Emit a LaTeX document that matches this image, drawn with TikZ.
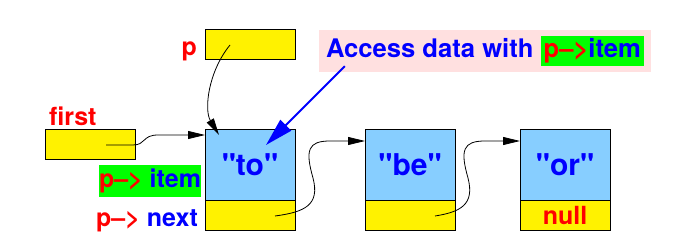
\documentclass[tikz,border=0pt]{standalone}
\usepackage{fontspec}
\setmainfont{TeX Gyre Heros}
\usepackage{xcolor}
\usetikzlibrary{positioning, arrows.meta}
\definecolor{ltblue}{RGB}{135,206,255}
\definecolor{pinkbg}{RGB}{255,224,224}
\definecolor{ptrgreen}{RGB}{0,255,0}
\tikzset{
  databox/.style={
    draw, line width=1pt, fill=ltblue, text=blue,
    minimum width=90pt, minimum height=70pt,
    inner sep=0pt, outer sep=0pt,
    font=\fontsize{30}{34}\selectfont\bfseries
  },
  linkbox/.style={
    draw, line width=1pt, fill=yellow,
    minimum width=90pt, minimum height=30pt,
    inner sep=0pt, outer sep=0pt
  },
  lbl/.style={inner sep=0pt, text=red},
  ptrarrow/.style={draw, line width=0.8pt, -{Triangle[length=17pt,width=8pt]}},
}
\newcommand{\arw}{\textcolor{red}{p-->}}
\newcommand{\qstr}[1]{\textquotedbl#1\textquotedbl}

\begin{document}
\begin{tikzpicture}[x=1pt, y=-1pt, font=\fontsize{25}{30}\selectfont\bfseries]
  \useasboundingbox (0,0) rectangle (688,251);

  % pointers
  \node[linkbox] (p)     at (250,45)  {};
  \node[linkbox] (first) at (90,145)  {};
  \node[lbl, anchor=base east] (plabel)     at (197,56)  {p};
  \node[lbl, anchor=base west] (firstlabel) at (49,126)  {first};

  % list cells
  \node[databox] (to) at (250,165) {\qstr{to}};
  \node[linkbox, below=0pt of to] (tonext) {};
  \node[databox] (be) at (410,165) {\qstr{be}};
  \node[linkbox, below=0pt of be] (benext) {};
  \node[databox] (or) at (565,165) {\qstr{or}};
  \node[linkbox, below=0pt of or, text=red] (ornext) {null};

  \node[fill=ptrgreen, inner sep=0pt, minimum width=102pt, minimum height=32pt]
    (itemlabel) at (150,181) {\arw\ \textcolor{blue}{item}};
  \node[inner sep=0pt, anchor=base west]
    (nextlabel) at (96,226) {\arw\ \textcolor{blue}{next}};

  \node[fill=pinkbg, text=blue, inner sep=0pt,
        minimum width=332pt, minimum height=42pt,
        font=\fontsize{25.6}{30}\selectfont\bfseries]
    (callout) at (485,51)
    {Access data with \colorbox{ptrgreen}{\arw\textcolor{blue}{item}}};

  % arrows
  \draw[ptrarrow] ([xshift=-20pt]p.center)
    .. controls (208,72) and (204,110) .. ([xshift=14pt,yshift=-5pt]to.north west);
  \draw[ptrarrow] ([xshift=16pt]first.center) -- (133,145)
    .. controls (146,145) and (142,135) .. (158,135)
    -- ([yshift=-5pt]to.north west);
  \foreach \a/\b/\s in {to/be/0, be/or/155}
    \draw[ptrarrow, xshift=\s pt] ([xshift=25pt,yshift=-1pt]\a next.center)
      .. controls (305,212) and (320,205) .. (313,178)
      .. controls (305,150) and (308,141) .. (330,141)
      -- ([yshift=-11pt]\b.north west);

  \draw[blue, line width=2pt, -{Triangle[length=28pt,width=15pt]}]
    ([xshift=26pt,yshift=6pt]callout.south west)
    -- ([xshift=61pt,yshift=-15pt]to.north west);
\end{tikzpicture}
\end{document}
